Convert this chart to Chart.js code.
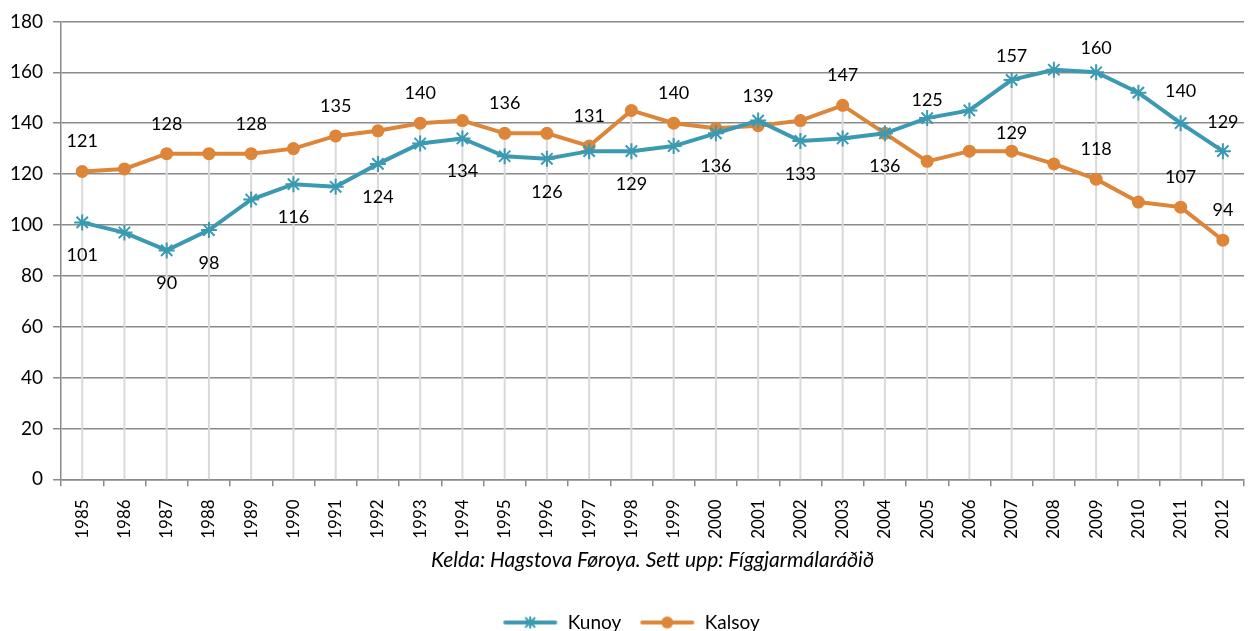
<!DOCTYPE html>
<html>
<head>
<meta charset="utf-8">
<script src="https://cdn.jsdelivr.net/npm/chart.js@4"></script>
<style>
  html, body { margin: 0; padding: 0; background: #fff; }
  canvas { display: block; }
</style>
</head>
<body>
<canvas id="chartOyggjar" width="1257" height="631"></canvas>
<script>
const years = ["1985", "1986", "1987", "1988", "1989", "1990", "1991", "1992", "1993", "1994",
               "1995", "1996", "1997", "1998", "1999", "2000", "2001", "2002", "2003", "2004",
               "2005", "2006", "2007", "2008", "2009", "2010", "2011", "2012"];

const kunoy = [101, 97, 90, 98, 110, 116, 115, 124, 132, 134,
               127, 126, 129, 129, 131, 136, 141, 133, 134, 136,
               142, 145, 157, 161, 160, 152, 140, 129];

const kalsoy = [121, 122, 128, 128, 128, 130, 135, 137, 140, 141,
                136, 136, 131, 145, 140, 138, 139, 141, 147, 136,
                125, 129, 129, 124, 118, 109, 107, 94];

// which years carry a value label
const kunoyLabelYears = ["1985", "1987", "1988", "1990", "1992", "1994", "1996", "1998",
                         "2000", "2002", "2004", "2007", "2009", "2011", "2012"];
const kalsoyLabelYears = ["1985", "1987", "1989", "1991", "1993", "1995", "1997", "1999",
                          "2001", "2003", "2005", "2007", "2009", "2011", "2012"];

const yTicks = [0, 20, 40, 60, 80, 100, 120, 140, 160, 180];

const teal = "#3b9ab2";
const orange = "#dd8538";
const gridDark = "#8a8a8a";
const gridLight = "#d9d9d9";
const font = "Lato";

// line + marker icon for the legend (blank strip on the left gives the gap between items)
function legendIcon(color, marker) {
    let c = document.createElement("canvas");
    c.width = 74;
    c.height = 16;
    let ctx = c.getContext("2d");
    ctx.strokeStyle = color;
    ctx.fillStyle = color;
    ctx.lineWidth = 4;
    ctx.lineCap = "round";
    ctx.beginPath();
    ctx.moveTo(21, 8);
    ctx.lineTo(71, 8);
    ctx.stroke();
    if (marker === "circle") {
        ctx.beginPath();
        ctx.arc(46, 8, 6, 0, Math.PI * 2);
        ctx.fill();
    } else {
        ctx.lineWidth = 2;
        ctx.lineCap = "butt";
        ctx.beginPath();
        ctx.moveTo(41, 3); ctx.lineTo(51, 13);
        ctx.moveTo(51, 3); ctx.lineTo(41, 13);
        ctx.moveTo(46, 2); ctx.lineTo(46, 14);
        ctx.stroke();
    }
    return c;
}

// Excel style drop lines: from the highest point of each year down to the axis
const dropLines = {
    id: "dropLines",
    beforeDatasetsDraw(chart) {
        let ctx = chart.ctx;
        let bottom = chart.chartArea.bottom;
        let metas = chart.data.datasets.map((d, i) => chart.getDatasetMeta(i));
        ctx.save();
        ctx.strokeStyle = gridLight;
        ctx.lineWidth = 2;
        years.forEach((y, idx) => {
            let pts = metas.map(m => m.data[idx]);
            let top = Math.min(...pts.map(p => p.y));
            ctx.beginPath();
            ctx.moveTo(pts[0].x, top);
            ctx.lineTo(pts[0].x, bottom);
            ctx.stroke();
        });
        ctx.restore();
    }
};

const pointLabels = {
    id: "pointLabels",
    afterDatasetsDraw(chart, args, opts) {
        let ctx = chart.ctx;
        ctx.save();
        ctx.font = `18px ${font}`;
        ctx.fillStyle = "#000";
        ctx.textAlign = "center";
        ctx.textBaseline = "middle";
        opts.series.forEach((s, i) => {
            let meta = chart.getDatasetMeta(i);
            let data = chart.data.datasets[i].data;
            s.years.forEach(year => {
                let idx = years.indexOf(year);
                let pt = meta.data[idx];
                let off = s.offsets[year] !== undefined ? s.offsets[year] : s.offset;
                ctx.fillText(data[idx], pt.x, pt.y + off);
            });
        });
        ctx.restore();
    }
};

let chartElement = document.querySelector("#chartOyggjar").getContext("2d");
new Chart(chartElement, {
    type: "line",
    data: {
        labels: years,
        datasets: [{
            label: "Kunoy",
            data: kunoy,
            borderColor: teal,
            backgroundColor: teal,
            borderWidth: 4,
            tension: 0,
            pointStyle: "star",
            pointRadius: 8,
            pointBorderWidth: 2,
            pointBorderColor: teal
        }, {
            label: "Kalsoy",
            data: kalsoy,
            borderColor: orange,
            backgroundColor: orange,
            borderWidth: 4,
            tension: 0,
            pointStyle: "circle",
            pointRadius: 6.5,
            pointBorderWidth: 0
        }]
    },
    options: {
        responsive: false,
        animation: false,
        layout: { padding: { left: 0, top: 10, right: 13, bottom: -11 } },
        scales: {
            x: {
                type: "category",
                offset: true,
                weight: 1,
                grid: { display: false },
                border: { display: false },
                ticks: { color: "#000", font: { family: font, size: 17 }, minRotation: 90, maxRotation: 90, padding: 5 },
                title: {
                    display: true,
                    text: "Kelda: Hagstova Føroya. Sett upp: Fíggjarmálaráðið",
                    color: "#000",
                    font: { family: font, size: 21, style: "italic" },
                    padding: { top: 4, bottom: 40 }
                }
            },
            x2: {
                type: "category",
                position: "bottom",
                offset: true,
                weight: 0,
                grid: { offset: true, drawOnChartArea: false, color: gridDark, lineWidth: 1.5, tickLength: 7 },
                border: { color: gridDark, width: 1.5 },
                ticks: { display: false }
            },
            y: {
                min: 0,
                max: 180,
                afterBuildTicks: axis => { axis.ticks = yTicks.map(v => ({ value: v })); },
                grid: { color: gridDark, lineWidth: 1.5, tickLength: 8 },
                border: { color: gridDark, width: 1.5 },
                ticks: { color: "#000", font: { family: font, size: 19 }, padding: 10 }
            }
        },
        plugins: {
            tooltip: { enabled: false },
            legend: {
                position: "bottom",
                labels: {
                    color: "#000",
                    font: { family: font, size: 19 },
                    usePointStyle: true,
                    pointStyleWidth: 74,
                    padding: 0,
                    generateLabels: chart => {
                        let items = Chart.defaults.plugins.legend.labels.generateLabels(chart);
                        items[0].pointStyle = legendIcon(teal, "star");
                        items[1].pointStyle = legendIcon(orange, "circle");
                        return items;
                    }
                }
            },
            pointLabels: {
                series: [
                    { years: kunoyLabelYears, offset: 33, offsets: { "2007": -24, "2009": -24, "2011": -32, "2012": -29 } },
                    { years: kalsoyLabelYears, offset: -30, offsets: { "2005": -61, "2007": -18 } }
                ]
            }
        }
    },
    plugins: [dropLines, pointLabels]
});
</script>
</body>
</html>
